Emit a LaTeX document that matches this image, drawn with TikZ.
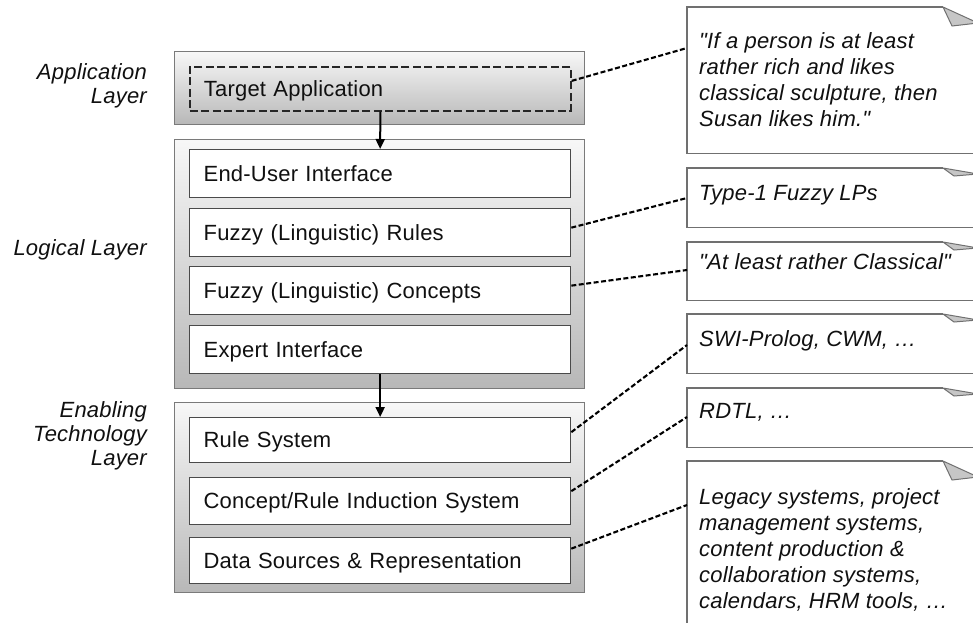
\documentclass[tikz,border=0pt]{standalone}
\usepackage{fontspec}
\setmainfont{Liberation Sans}[LetterSpace=1, Ligatures=TeXOff]
\usetikzlibrary{calc,arrows.meta}

\definecolor{layerline}{HTML}{7A7A7A}
\definecolor{boxline}{HTML}{4A4A4A}
\definecolor{noteline}{HTML}{707070}
\definecolor{foldfill}{HTML}{C6C6C6}
\definecolor{ink}{HTML}{101010}

\newcommand\dgboxfont{\fontsize{22}{26}\selectfont}
\newcommand\dglabelfont{\itshape\fontsize{22}{24}\selectfont}

\begin{document}
\begin{tikzpicture}[x=1pt,y=-1pt,
  layerbox/.style={draw=layerline, line width=1.2pt, top color=white!97!black,
    bottom color=black!28, minimum width=410pt, inner sep=0pt, anchor=north west},
  innerbox/.style={draw=boxline, line width=1.3pt, fill=white, minimum width=381pt,
    minimum height=48pt, text width=353pt, inner xsep=14pt, inner ysep=0pt,
    align=left, text height=15.5pt, text depth=0pt, font=\dgboxfont, text=ink,
    anchor=north west},
  targetbox/.style={innerbox, fill=none, dash pattern=on 8pt off 3.5pt, line width=1.7pt, draw=black!85},
  layerlabel/.style={align=right, inner sep=0pt, font=\dglabelfont, text=ink, anchor=north east},
  noteframe/.style={fill=white, draw=none, minimum width=300pt, inner sep=0pt, anchor=north west},
  noteedge/.style={draw=noteline, line width=1.3pt},
  foldtri/.style={draw=noteline, fill=foldfill, line width=1pt, line join=round},
  notetext/.style={align=left, inner sep=0pt, anchor=north west, text=ink,
    font=\itshape\dgboxfont},
  arr/.style={-{Triangle[length=10pt,width=9pt]}, line width=2pt, draw=black},
  link/.style={draw=black, line width=2.1pt, dash pattern=on 5pt off 2.5pt}
]
\useasboundingbox (0,0) rectangle (973,622);
\clip (0,0) rectangle (973,622);
\fill[white] (0,0) rectangle (973,622);

% ---- layers ----
\node[layerbox, minimum height=73pt]  (appL) at (174,51)  {};
\node[layerbox, minimum height=249pt] (logL) at (174,139) {};
\node[layerbox, minimum height=190pt] (enbL) at (174,402) {};

\node[layerlabel] (labApp) at (147,63)  {Application\\Layer};
\node[layerlabel] (labLog) at (147,239) {Logical Layer};
\node[layerlabel] (labEnb) at (147,401) {Enabling\\Technology\\Layer};

% ---- components ----
\node[targetbox, minimum height=44pt] (ta) at (189,66) {Target Application};

\node[innerbox] (eu) at (189,149) {End-User Interface};
\node[innerbox] (fr) at (189,208) {Fuzzy (Linguistic) Rules};
\node[innerbox] (fc) at (189,266) {Fuzzy (Linguistic) Concepts};
\node[innerbox] (ei) at (189,325) {Expert Interface};

\node[innerbox, minimum height=45pt] (rs) at (189,417) {Rule System};
\node[innerbox, minimum height=47pt] (ci) at (189,477) {Concept/Rule Induction System};
\node[innerbox, minimum height=46pt] (ds) at (189,537) {Data Sources \& Representation};

\draw[arr] (ta.south) -- (eu.north);
\draw[arr] (ei.south) -- (rs.north);

% ---- notes ----
\node[noteframe, minimum height=146pt] (n1) at (687,7)   {};
\node[noteframe, minimum height=59pt]  (n2) at (687,168) {};
\node[noteframe, minimum height=58pt]  (n3) at (687,242) {};
\node[noteframe, minimum height=59pt]  (n4) at (687,314) {};
\node[noteframe, minimum height=59pt]  (n5) at (687,388) {};
\node[noteframe, minimum height=200pt] (n6) at (687,461) {};

\foreach \n in {n1,n2,n3,n4,n5,n6}{
  \draw[noteedge] ($(\n.north west)+(256,0)$) -- (\n.north west)
    -- (\n.south west) -- (\n.south east);
}
% folded corners
\foreach \n in {n1,n6}{
  \draw[foldtri] ($(\n.north west)+(256,0)$) -- ++(9,19) -- ++(26,-3) -- cycle;
}
\foreach \n in {n2,n3,n4,n5}{
  \draw[foldtri] ($(\n.north west)+(256,0)$) -- ++(11,8) -- ++(24,-2) -- cycle;
}

\node[notetext] (t1) at (699,32)  {"If a person is at least\\rather rich and likes\\classical sculpture, then\\Susan likes him."};
\node[notetext] (t2) at (699,185) {Type-1 Fuzzy LPs};
\node[notetext] (t3) at (699,253) {"At least rather Classical"};
\node[notetext] (t4) at (699,330) {SWI-Prolog, CWM, \ldots};
\node[notetext] (t5) at (699,403) {RDTL, \ldots};
\node[notetext] (t6) at (699,488) {Legacy systems, project\\management systems,\\content production \&\\collaboration systems,\\calendars, HRM tools, \ldots};

% ---- dashed annotations ----
\draw[link] ($(ta.east)+(0,-8)$)  -- ($(n1.north west)+(0,41)$);
\draw[link] ($(fr.east)+(0,-5)$)  -- ($(n2.north west)+(0,30)$);
\draw[link] ($(fc.east)+(0,-5)$)  -- ($(n3.north west)+(0,28)$);
\draw[link] ($(rs.east)+(0,-8)$)  -- ($(n4.north west)+(0,31)$);
\draw[link] ($(ci.east)+(0,-10)$) -- ($(n5.north west)+(0,29)$);
\draw[link] ($(ds.east)+(0,-12)$) -- ($(n6.north west)+(0,44)$);
\end{tikzpicture}
\end{document}
